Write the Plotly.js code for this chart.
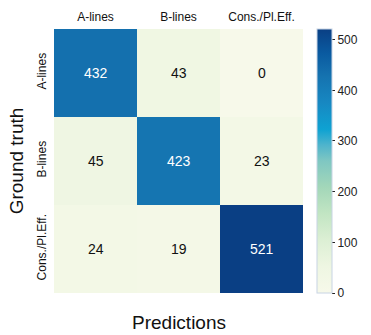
<!DOCTYPE html>
<html>
<head>
<meta charset="utf-8">
<script src="https://cdn.plot.ly/plotly-3.0.1.min.js"></script>
<style>html,body{margin:0;padding:0;background:#fff;}#chart{width:371px;height:335px;}</style>
</head>
<body>
<div id="chart"></div>
<script>
const predLabels = ['A-lines', 'B-lines', 'Cons./Pl.Eff.'];
const truthLabels = ['A-lines', 'B-lines', 'Cons./Pl.Eff.'];
const rowALines = [432, 43, 0];
const rowBLines = [45, 423, 23];
const rowCons = [24, 19, 521];
const counts = [rowALines, rowBLines, rowCons];
const zMax = 521;

const colorscale = [
  [0.0, '#f7f9ea'],
  [0.1, '#eef6e2'],
  [0.2, '#dcefd4'],
  [0.3, '#c2e5c3'],
  [0.4, '#a3d7b9'],
  [0.5, '#7fc7c2'],
  [0.56, '#4fb4cc'],
  [0.62, '#0ea2d2'],
  [0.72, '#1788c2'],
  [0.82, '#1573b0'],
  [0.91, '#0a5aa0'],
  [1.0, '#0a3f84']
];

const annotations = [];
counts.forEach((row, i) => {
  row.forEach((v, j) => {
    annotations.push({
      x: predLabels[j], y: truthLabels[i], text: String(v),
      showarrow: false, xref: 'x', yref: 'y',
      font: {family: 'Liberation Sans, Arial, sans-serif', size: 14, color: v > 300 ? '#ffffff' : '#111111'}
    });
  });
});
annotations.push({
  text: 'Predictions', xref: 'paper', yref: 'paper', x: 0.5, y: -0.11,
  xanchor: 'center', yanchor: 'middle', showarrow: false,
  font: {family: 'Liberation Sans, Arial, sans-serif', size: 19, color: '#111'}
});

const trace = {
  type: 'heatmap',
  x: predLabels, y: truthLabels, z: counts,
  zmin: 0, zmax: zMax,
  colorscale: colorscale,
  xgap: 0, ygap: 0,
  hoverinfo: 'none',
  colorbar: {
    thickness: 15, len: 1, lenmode: 'fraction',
    x: 1.0575, xanchor: 'left', xpad: 0, ypad: 0,
    y: 0.5, yanchor: 'middle',
    tickvals: [0, 100, 200, 300, 400, 500],
    ticks: 'outside', ticklen: 3, tickwidth: 1, tickcolor: '#222',
    outlinewidth: 1, outlinecolor: '#c8d4e4',
    tickfont: {family: 'Liberation Sans, Arial, sans-serif', size: 12, color: '#222'}
  }
};

const layout = {
  width: 371, height: 335,
  margin: {l: 54, r: 56, t: 29, b: 42},
  paper_bgcolor: '#fff', plot_bgcolor: '#fff',
  xaxis: {
    side: 'top', showgrid: false, zeroline: false, ticks: '', ticklen: 0,
    ticklabelstandoff: 5,
    tickfont: {family: 'Liberation Sans, Arial, sans-serif', size: 12, color: '#111'},
    automargin: false
  },
  yaxis: {
    autorange: 'reversed', showgrid: false, zeroline: false, ticks: '',
    tickangle: -90, ticklabelstandoff: 5,
    tickfont: {family: 'Liberation Sans, Arial, sans-serif', size: 12, color: '#111'},
    title: {text: 'Ground truth', standoff: 5, font: {family: 'Liberation Sans, Arial, sans-serif', size: 19, color: '#111'}},
    automargin: false
  },
  annotations: annotations,
  font: {family: 'Liberation Sans, Arial, sans-serif'}
};

Plotly.newPlot('chart', [trace], layout, {displayModeBar: false, staticPlot: true});
</script>
</body>
</html>
